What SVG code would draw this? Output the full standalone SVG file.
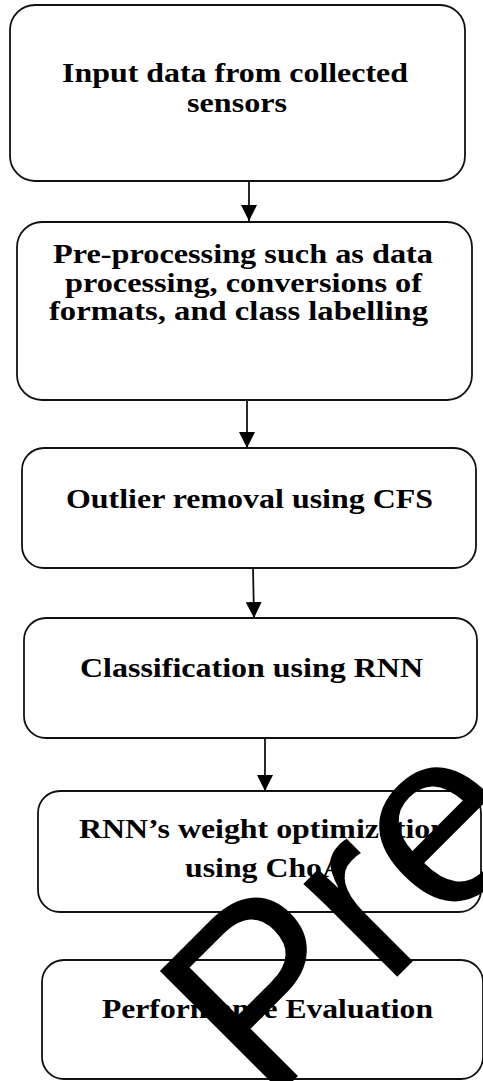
<svg xmlns="http://www.w3.org/2000/svg" width="483" height="1081" viewBox="0 0 483 1081">
<style>
.box{fill:#fff;stroke:#111;stroke-width:1.8}
.lbl{font-family:"Liberation Serif","Times New Roman",serif;font-weight:bold;font-size:28px;fill:#000}
.conn{stroke:#111;stroke-width:1.8;fill:none}
.wm{font-family:"Liberation Sans",Arial,sans-serif;font-size:250px;fill:#000}
</style>
<defs>
<marker id="ah" markerUnits="userSpaceOnUse" markerWidth="16" markerHeight="16" refX="16" refY="8" orient="auto">
<path d="M0,0 L16,8 L0,16 z" fill="#000"/>
</marker>
</defs>
<rect width="483" height="1081" fill="#fff"/>
<g id="n1">
<rect class="box" x="10" y="5" width="455" height="176" rx="25" ry="25"/>
<text class="lbl" x="62" y="82" textLength="346" lengthAdjust="spacingAndGlyphs">Input data from collected</text>
<text class="lbl" x="187" y="112" textLength="100" lengthAdjust="spacingAndGlyphs">sensors</text>
</g>
<g id="n2">
<rect class="box" x="17" y="222" width="455" height="178" rx="25" ry="25"/>
<text class="lbl" x="53" y="263" textLength="380" lengthAdjust="spacingAndGlyphs">Pre-processing such as data</text>
<text class="lbl" x="65" y="292" textLength="357" lengthAdjust="spacingAndGlyphs">processing, conversions of</text>
<text class="lbl" x="49" y="320" textLength="379" lengthAdjust="spacingAndGlyphs">formats, and class labelling</text>
</g>
<g id="n3">
<rect class="box" x="22" y="448" width="454" height="120" rx="22" ry="22"/>
<text class="lbl" x="66" y="508" textLength="367" lengthAdjust="spacingAndGlyphs">Outlier removal using CFS</text>
</g>
<g id="n4">
<rect class="box" x="24" y="618" width="453" height="120" rx="22" ry="22"/>
<text class="lbl" x="80" y="677" textLength="343" lengthAdjust="spacingAndGlyphs">Classification using RNN</text>
</g>
<g id="n5">
<rect class="box" x="38" y="791" width="443" height="121" rx="22" ry="22"/>
<text class="lbl" x="79" y="838" textLength="369" lengthAdjust="spacingAndGlyphs">RNN’s weight optimization</text>
<text class="lbl" x="185" y="877" textLength="160" lengthAdjust="spacingAndGlyphs">using ChoA</text>
</g>
<g id="n6">
<rect class="box" x="42" y="960" width="441" height="119" rx="22" ry="22"/>
<text class="lbl" x="102" y="1018" textLength="331" lengthAdjust="spacingAndGlyphs">Performance Evaluation</text>
</g>
<g id="connectors">
<line class="conn" x1="249" y1="181" x2="249" y2="221" marker-end="url(#ah)"/>
<line class="conn" x1="247" y1="400" x2="247" y2="448" marker-end="url(#ah)"/>
<line class="conn" x1="253" y1="568" x2="254" y2="618" marker-end="url(#ah)"/>
<line class="conn" x1="265" y1="738" x2="265" y2="791" marker-end="url(#ah)"/>
</g>
<g id="watermark">
<text class="wm" x="267" y="1107" transform="rotate(-45 267 1107)">Pre</text>
</g>
</svg>
